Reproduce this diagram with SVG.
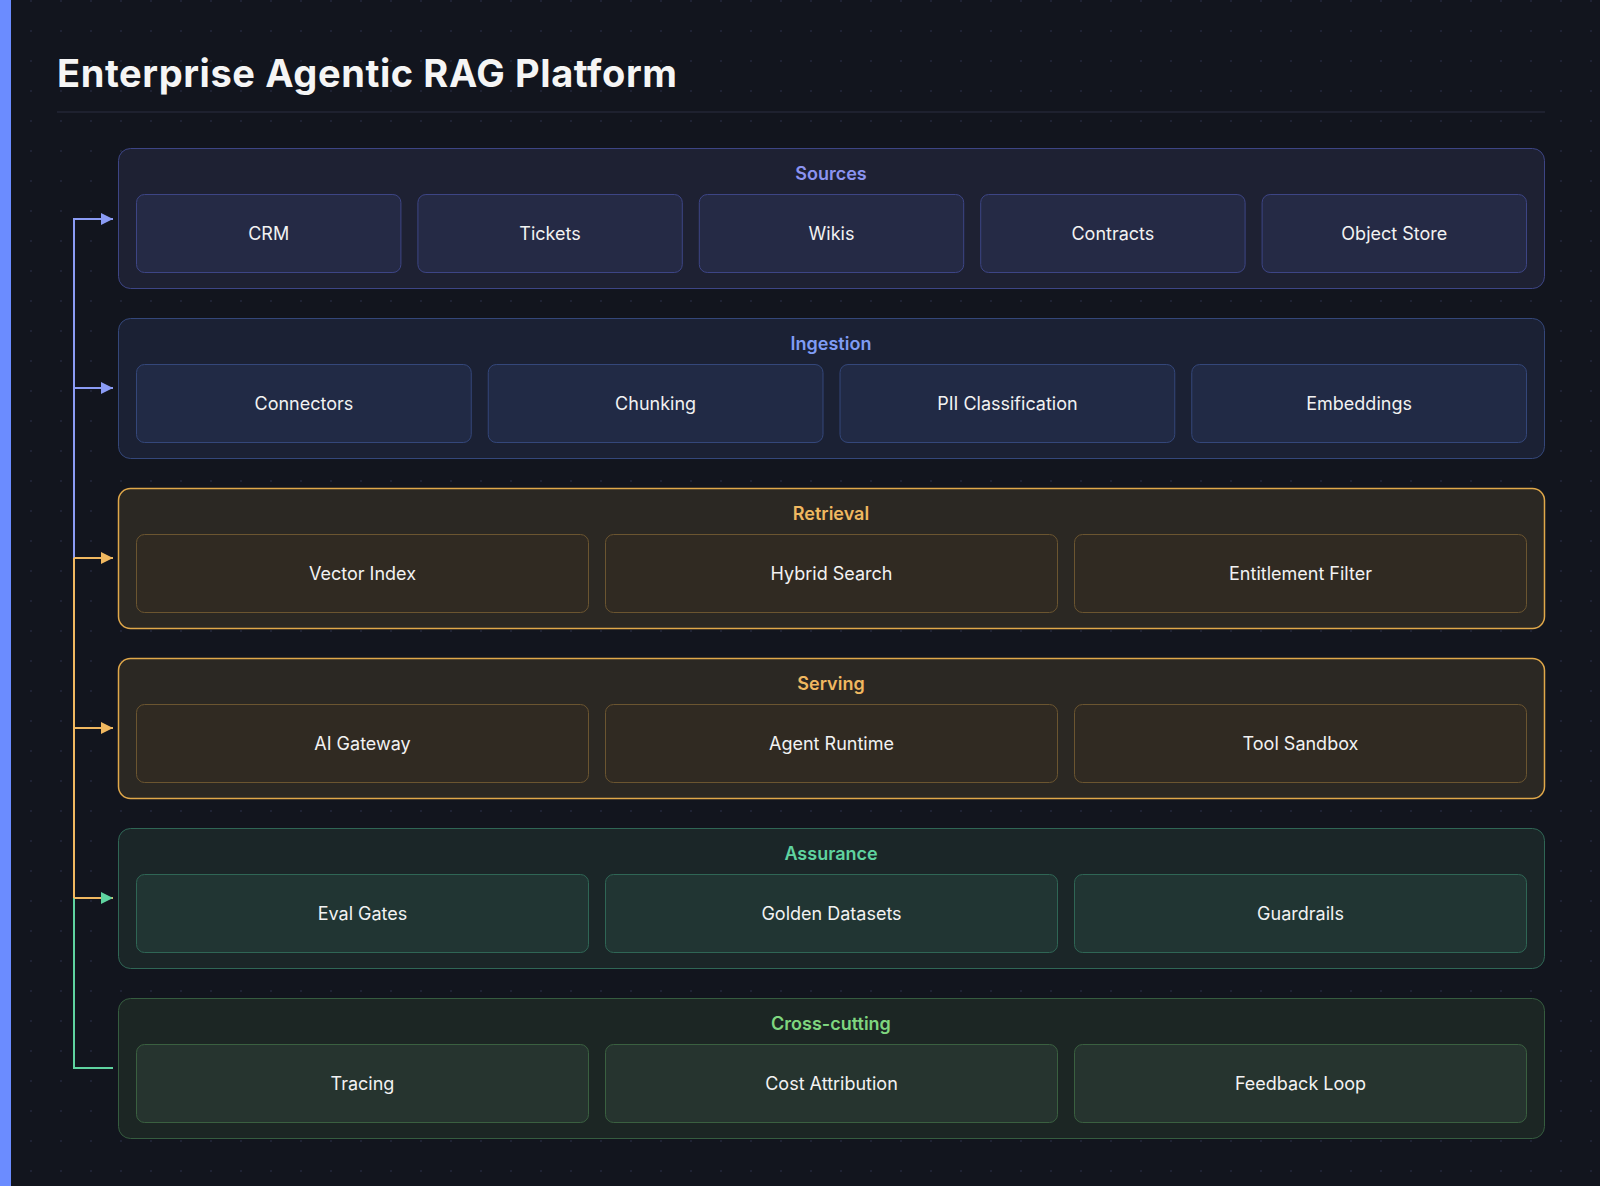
<svg xmlns="http://www.w3.org/2000/svg" width="1600" height="1186" viewBox="0 0 1600 1186">
<defs>
<pattern id="dots" width="30" height="30" patternUnits="userSpaceOnUse" x="16" y="136"><circle cx="15" cy="15" r="1" fill="#22283a"/></pattern>
<marker id="aB" viewBox="0 0 10 10" refX="10" refY="5" markerWidth="12" markerHeight="12" markerUnits="userSpaceOnUse" orient="auto"><path d="M0,0 L10,5 L0,10 z" fill="#8b9cf5"/></marker>
<marker id="aO" viewBox="0 0 10 10" refX="10" refY="5" markerWidth="12" markerHeight="12" markerUnits="userSpaceOnUse" orient="auto"><path d="M0,0 L10,5 L0,10 z" fill="#f0b860"/></marker>
<marker id="aG" viewBox="0 0 10 10" refX="10" refY="5" markerWidth="12" markerHeight="12" markerUnits="userSpaceOnUse" orient="auto"><path d="M0,0 L10,5 L0,10 z" fill="#5fd3a0"/></marker>
</defs>
<style>
text{font-family:"Inter","Liberation Sans",sans-serif}
.t{fill:#f2f2f2;font-size:18px;text-anchor:middle}
.l{font-size:18px;font-weight:600;text-anchor:middle}
.c{fill:none;stroke-width:2}
.s .o{fill:#1e2133;stroke:#3d4585}.s .i{fill:#252a45;stroke:#3d4585}.s .l{fill:#8b93f0}
.g .o{fill:#1b2134;stroke:#34477a}.g .i{fill:#212a45;stroke:#34477a}.g .l{fill:#7f9cf5}
.r .o{fill:#2b2823;stroke:#e0a84a;stroke-width:1.5}.r .i{fill:#302a22;stroke:#6b5530}.r .l{fill:#f0b860}
.a .o{fill:#1b2628;stroke:#2f6655}.a .i{fill:#213533;stroke:#2f6655}.a .l{fill:#5fd3a0}
.x .o{fill:#1c2624;stroke:#355c3f}.x .i{fill:#26342f;stroke:#3a6040}.x .l{fill:#7fd67f}
</style>
<rect width="1600" height="1186" fill="#12151e"/>
<rect width="1600" height="1186" fill="url(#dots)"/>
<rect width="11" height="1186" fill="#6b8cff"/>
<text x="57" y="87" font-size="38" font-weight="700" letter-spacing="0.6" fill="#f5f5f5">Enterprise Agentic RAG Platform</text>
<line x1="57" y1="112" x2="1545" y2="112" stroke="#2a2f40"/>

<g id="connectors">
<path class="c" d="M113,219 H74 V558" stroke="#8b9cf5"/>
<path class="c" d="M74,219 H113" stroke="#8b9cf5" marker-end="url(#aB)"/>
<path class="c" d="M74,388 H113" stroke="#8b9cf5" marker-end="url(#aB)"/>
<path class="c" d="M74,558 V898" stroke="#f0b860"/>
<path class="c" d="M74,558 H113" stroke="#f0b860" marker-end="url(#aO)"/>
<path class="c" d="M74,728 H113" stroke="#f0b860" marker-end="url(#aO)"/>
<path class="c" d="M74,898 V1068 H113" stroke="#5fd3a0"/>
<path class="c" d="M74,898 H113" stroke="#f0b860" marker-end="url(#aG)"/>
</g>

<g id="sources" class="s">
<rect class="o" x="118.5" y="148.5" width="1426" height="140" rx="12"/>
<text class="l" x="831" y="180">Sources</text>
<g id="crm"><rect class="i" x="136.5" y="194.5" width="264.4" height="78" rx="8"/><text class="t" x="268.7" y="240">CRM</text></g>
<g id="tickets"><rect class="i" x="417.9" y="194.5" width="264.4" height="78" rx="8"/><text class="t" x="550.1" y="240">Tickets</text></g>
<g id="wikis"><rect class="i" x="699.3" y="194.5" width="264.4" height="78" rx="8"/><text class="t" x="831.5" y="240">Wikis</text></g>
<g id="contracts"><rect class="i" x="980.7" y="194.5" width="264.4" height="78" rx="8"/><text class="t" x="1112.9" y="240">Contracts</text></g>
<g id="objectstore"><rect class="i" x="1262.1" y="194.5" width="264.4" height="78" rx="8"/><text class="t" x="1394.3" y="240">Object Store</text></g>
</g>

<g id="ingestion" class="g">
<rect class="o" x="118.5" y="318.5" width="1426" height="140" rx="12"/>
<text class="l" x="831" y="350">Ingestion</text>
<g id="connectors-n"><rect class="i" x="136.5" y="364.5" width="334.75" height="78" rx="8"/><text class="t" x="303.9" y="410">Connectors</text></g>
<g id="chunking"><rect class="i" x="488.25" y="364.5" width="334.75" height="78" rx="8"/><text class="t" x="655.6" y="410">Chunking</text></g>
<g id="pii"><rect class="i" x="840" y="364.5" width="334.75" height="78" rx="8"/><text class="t" x="1007.4" y="410">PII Classification</text></g>
<g id="embeddings"><rect class="i" x="1191.75" y="364.5" width="334.75" height="78" rx="8"/><text class="t" x="1359.1" y="410">Embeddings</text></g>
</g>

<g id="retrieval" class="r">
<rect class="o" x="118.5" y="488.5" width="1426" height="140" rx="12"/>
<text class="l" x="831" y="520">Retrieval</text>
<g id="vector"><rect class="i" x="136.5" y="534.5" width="452" height="78" rx="8"/><text class="t" x="362.5" y="580">Vector Index</text></g>
<g id="hybrid"><rect class="i" x="605.5" y="534.5" width="452" height="78" rx="8"/><text class="t" x="831.5" y="580">Hybrid Search</text></g>
<g id="entitlement"><rect class="i" x="1074.5" y="534.5" width="452" height="78" rx="8"/><text class="t" x="1300.5" y="580">Entitlement Filter</text></g>
</g>

<g id="serving" class="r">
<rect class="o" x="118.5" y="658.5" width="1426" height="140" rx="12"/>
<text class="l" x="831" y="690">Serving</text>
<g id="gateway"><rect class="i" x="136.5" y="704.5" width="452" height="78" rx="8"/><text class="t" x="362.5" y="750">AI Gateway</text></g>
<g id="runtime"><rect class="i" x="605.5" y="704.5" width="452" height="78" rx="8"/><text class="t" x="831.5" y="750">Agent Runtime</text></g>
<g id="sandbox"><rect class="i" x="1074.5" y="704.5" width="452" height="78" rx="8"/><text class="t" x="1300.5" y="750">Tool Sandbox</text></g>
</g>

<g id="assurance" class="a">
<rect class="o" x="118.5" y="828.5" width="1426" height="140" rx="12"/>
<text class="l" x="831" y="860">Assurance</text>
<g id="eval"><rect class="i" x="136.5" y="874.5" width="452" height="78" rx="8"/><text class="t" x="362.5" y="920">Eval Gates</text></g>
<g id="golden"><rect class="i" x="605.5" y="874.5" width="452" height="78" rx="8"/><text class="t" x="831.5" y="920">Golden Datasets</text></g>
<g id="guardrails"><rect class="i" x="1074.5" y="874.5" width="452" height="78" rx="8"/><text class="t" x="1300.5" y="920">Guardrails</text></g>
</g>

<g id="crosscutting" class="x">
<rect class="o" x="118.5" y="998.5" width="1426" height="140" rx="12"/>
<text class="l" x="831" y="1030">Cross-cutting</text>
<g id="tracing"><rect class="i" x="136.5" y="1044.5" width="452" height="78" rx="8"/><text class="t" x="362.5" y="1090">Tracing</text></g>
<g id="cost"><rect class="i" x="605.5" y="1044.5" width="452" height="78" rx="8"/><text class="t" x="831.5" y="1090">Cost Attribution</text></g>
<g id="feedback"><rect class="i" x="1074.5" y="1044.5" width="452" height="78" rx="8"/><text class="t" x="1300.5" y="1090">Feedback Loop</text></g>
</g>
</svg>
